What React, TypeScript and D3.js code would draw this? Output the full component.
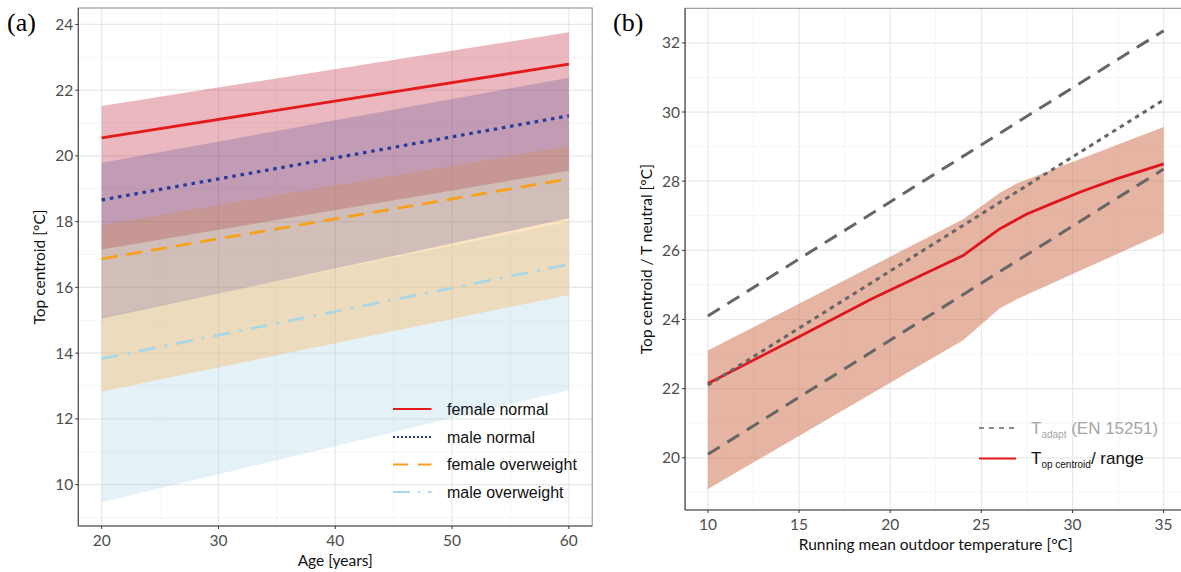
import React from "react";
import * as d3 from "d3";

// panel (a): age model, values read at 20 and 60 years
const ages = [20, 60];
const femaleNormal = [20.55, 22.79];
const femaleNormalLow = [17.15, 19.55];
const femaleNormalHigh = [21.52, 23.76];
const maleNormal = [18.66, 21.22];
const maleNormalLow = [15.05, 18.1];
const maleNormalHigh = [19.79, 22.38];
const femaleOver = [16.87, 19.3];
const femaleOverLow = [12.83, 15.77];
const femaleOverHigh = [17.9, 20.3];
const maleOver = [13.83, 16.7];
const maleOverLow = [9.46, 12.87];
const maleOverHigh = [15.1, 18.0];

const ageTicks = [20, 30, 40, 50, 60];
const ageMinor = [25, 35, 45, 55];
const topTicksA = [10, 12, 14, 16, 18, 20, 22, 24];
const topMinorA = [9, 11, 13, 15, 17, 19, 21, 23];

// panel (b): running mean outdoor temperature
const trmAdapt = [10, 35];
const adaptUpper = [24.1, 32.35];
const adaptMid = [22.1, 30.35];
const adaptLower = [20.1, 28.35];
const trmCentroid = [10, 15, 19, 24, 26, 27.5, 29, 30.5, 32.5, 35];
const centroid = [22.15, 23.5, 24.6, 25.85, 26.62, 27.05, 27.38, 27.7, 28.08, 28.5];
const trmRange = [10, 24, 26, 27, 35];
const rangeLow = [19.1, 23.4, 24.32, 24.6, 26.5];
const rangeHigh = [23.1, 26.9, 27.66, 27.95, 29.57];

const trmTicks = [10, 15, 20, 25, 30, 35];
const trmMinor = [12.5, 17.5, 22.5, 27.5, 32.5];
const topTicksB = [20, 22, 24, 26, 28, 30, 32];
const topMinorB = [19, 21, 23, 25, 27, 29, 31];

const groupsA = [
  { name: "female normal", mean: femaleNormal, low: femaleNormalLow, high: femaleNormalHigh, line: "#e41a1c", fill: "#c0132b", alpha: 0.3, dash: null, legendDash: null },
  { name: "male normal", mean: maleNormal, low: maleNormalLow, high: maleNormalHigh, line: "#27399a", fill: "#2e3593", alpha: 0.22, dash: "3.5 4.8", legendDash: "2 2" },
  { name: "female overweight", mean: femaleOver, low: femaleOverLow, high: femaleOverHigh, line: "#f7a11a", fill: "#ffa838", alpha: 0.3, dash: "16 9", legendDash: "15 10" },
  { name: "male overweight", mean: maleOver, low: maleOverLow, high: maleOverHigh, line: "#a9d7e6", fill: "#add8e6", alpha: 0.33, dash: "17 9 3 9", legendDash: "17 8 2 8" },
];
// ribbons stacked in this order (bottom first)
const bandOrder = ["female normal", "male overweight", "female overweight", "male normal"];

const W = 1181;
const H = 572;
const tickFont = "Lato, 'Open Sans', sans-serif";
const legendFont = "'Liberation Sans', Arial, sans-serif";

function Grid({ x, y, xMajor, xMinor, yMajor, yMinor }) {
  const [x0, x1] = x.range();
  const [y0, y1] = y.range();
  return (
    <g>
      {xMinor.map(v => <line key={"xm" + v} x1={x(v)} x2={x(v)} y1={y0} y2={y1} stroke="#f2f2f2" strokeWidth={0.8} />)}
      {yMinor.map(v => <line key={"ym" + v} x1={x0} x2={x1} y1={y(v)} y2={y(v)} stroke="#f2f2f2" strokeWidth={0.8} />)}
      {xMajor.map(v => <line key={"xM" + v} x1={x(v)} x2={x(v)} y1={y0} y2={y1} stroke="#e8e8e8" strokeWidth={1.2} />)}
      {yMajor.map(v => <line key={"yM" + v} x1={x0} x2={x1} y1={y(v)} y2={y(v)} stroke="#e8e8e8" strokeWidth={1.2} />)}
    </g>
  );
}

function Axes({ x, y, xTicks, yTicks, xTitle, yTitle, xTitleY, yTitleX }) {
  const [x0, x1] = x.range();
  const [y0, y1] = y.range();
  return (
    <g>
      <rect x={x0} y={y1} width={x1 - x0} height={y0 - y1} fill="none" stroke="#8c8c8c" strokeWidth={1} />
      <line x1={x0} x2={x0} y1={y1} y2={y0} stroke="#555" strokeWidth={1.2} />
      <line x1={x0} x2={x1} y1={y0} y2={y0} stroke="#555" strokeWidth={1.2} />
      {xTicks.map(v => (
        <g key={"xt" + v}>
          <line x1={x(v)} x2={x(v)} y1={y0} y2={y0 + 3} stroke="#333" />
          <text x={x(v)} y={y0 + 20} textAnchor="middle" fontFamily={tickFont} fontSize={15.5} fill="#4d4d4d">{v}</text>
        </g>
      ))}
      {yTicks.map(v => (
        <g key={"yt" + v}>
          <line x1={x0 - 3} x2={x0} y1={y(v)} y2={y(v)} stroke="#333" />
          <text x={x0 - 5} y={y(v) + 5.5} textAnchor="end" fontFamily={tickFont} fontSize={15.5} fill="#4d4d4d">{v}</text>
        </g>
      ))}
      <text x={(x0 + x1) / 2} y={xTitleY} textAnchor="middle" fontFamily={tickFont} fontSize={15.5} fill="#111">{xTitle}</text>
      <text transform={`translate(${yTitleX},${(y0 + y1) / 2}) rotate(-90)`} textAnchor="middle" fontFamily={tickFont} fontSize={15.5} fill="#111">{yTitle}</text>
    </g>
  );
}

function PanelA() {
  const x = d3.scaleLinear().domain([18, 62]).range([78.3, 592.2]);
  const y = d3.scaleLinear().domain([8.74, 24.5]).range([526, 8]);
  const idx = ages.map((_, i) => i);
  const area = (g) => d3.area<number>().x(i => x(ages[i])).y0(i => y(g.low[i])).y1(i => y(g.high[i]))(idx);
  const line = (g) => d3.line<number>().x(i => x(ages[i])).y(i => y(g.mean[i]))(idx);
  const legendY = [409, 437, 464.5, 492];
  const bands = bandOrder.map(n => groupsA.find(g => g.name === n));
  return (
    <g>
      <Grid x={x} y={y} xMajor={ageTicks} xMinor={ageMinor} yMajor={topTicksA} yMinor={topMinorA} />
      {bands.map(g => <path key={"b" + g.name} d={area(g)} fill={g.fill} fillOpacity={g.alpha} />)}
      {groupsA.map(g => (
        <path key={"l" + g.name} d={line(g)} fill="none" stroke={g.line} strokeWidth={g.dash === "3.5 4.8" ? 3.2 : 2.8} strokeDasharray={g.dash || undefined} />
      ))}
      <Axes x={x} y={y} xTicks={ageTicks} yTicks={topTicksA} xTitle="Age [years]" yTitle="Top centroid [°C]" xTitleY={566} yTitleX={45} />
      {groupsA.map((g, i) => (
        <g key={"lg" + g.name}>
          <line x1={393} x2={431.5} y1={legendY[i]} y2={legendY[i]} stroke={g.line} strokeWidth={1.8} strokeDasharray={g.legendDash || undefined} />
          <text x={447} y={legendY[i] + 5.5} fontFamily={legendFont} fontSize={16} fill="#111">{g.name}</text>
        </g>
      ))}
      <text x={7} y={31} fontFamily="'Liberation Serif', 'Times New Roman', serif" fontSize={26} fill="#000">(a)</text>
    </g>
  );
}

function PanelB() {
  const x = d3.scaleLinear().domain([8.75, 36.25]).range([685.1, 1186.4]);
  const y = d3.scaleLinear().domain([18.49, 33.0]).range([510, 8.3]);
  const ri = trmRange.map((_, i) => i);
  const band = d3.area<number>().x(i => x(trmRange[i])).y0(i => y(rangeLow[i])).y1(i => y(rangeHigh[i]))(ri);
  const red = d3.line<number>().x(i => x(trmCentroid[i])).y(i => y(centroid[i]))(trmCentroid.map((_, i) => i));
  const adapt = (vals) => d3.line<number>().x(i => x(trmAdapt[i])).y(i => y(vals[i]))(trmAdapt.map((_, i) => i));
  return (
    <g>
      <Grid x={x} y={y} xMajor={trmTicks} xMinor={trmMinor} yMajor={topTicksB} yMinor={topMinorB} />
      <path d={band} fill="#cd6a45" fillOpacity={0.5} />
      <path d={red} fill="none" stroke="#e0161d" strokeWidth={2.8} strokeLinejoin="round" />
      <path d={adapt(adaptUpper)} fill="none" stroke="#666" strokeWidth={3} strokeDasharray="14 9" />
      <path d={adapt(adaptLower)} fill="none" stroke="#666" strokeWidth={3} strokeDasharray="14 9" />
      <path d={adapt(adaptMid)} fill="none" stroke="#666" strokeWidth={3} strokeDasharray="4.5 4.5" />
      <Axes x={x} y={y} xTicks={trmTicks} xTitle="Running mean outdoor temperature [°C]" yTicks={topTicksB} yTitle="Top centroid / T neutral [°C]" xTitleY={550} yTitleX={652} />
      <line x1={979} x2={1017} y1={428} y2={428} stroke="#666" strokeWidth={1.6} strokeDasharray="5 5" />
      <text x={1031} y={434} fontFamily={legendFont} fontSize={17} fill="#a6a6a6">
        T<tspan fontSize={10} dy={4}>adapt</tspan><tspan dy={-4}> (EN 15251)</tspan>
      </text>
      <line x1={979} x2={1016} y1={458.5} y2={458.5} stroke="#e41a1c" strokeWidth={2} />
      <text x={1031} y={464} fontFamily={legendFont} fontSize={17} fill="#111">
        T<tspan fontSize={10} dy={4}>op centroid</tspan><tspan dy={-4}>/ range</tspan>
      </text>
      <text x={613} y={31} fontFamily="'Liberation Serif', 'Times New Roman', serif" fontSize={26} fill="#000">(b)</text>
    </g>
  );
}

export default function App() {
  return (
    <svg width={W} height={H} viewBox={`0 0 ${W} ${H}`} style={{ position: "absolute", left: 0, top: 0, display: "block", background: "#fff", overflow: "hidden" }}>
      <rect x={0} y={0} width={W} height={H} fill="#fff" />
      <PanelA />
      <PanelB />
    </svg>
  );
}
